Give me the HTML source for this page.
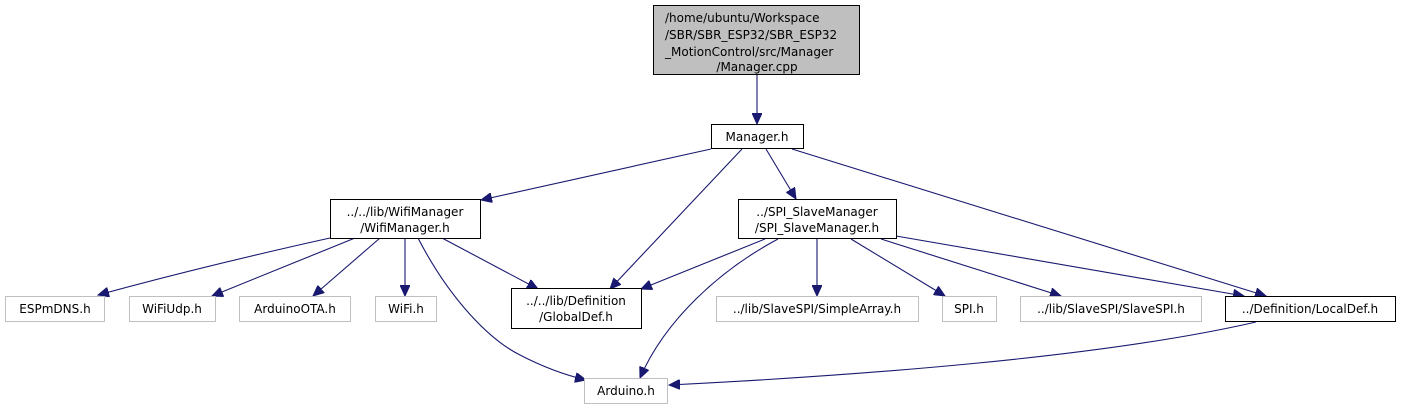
<!DOCTYPE html>
<html><head><meta charset="utf-8"><style>
html,body{margin:0;padding:0;background:#fff;}
svg{display:block;}
text{font-family:"DejaVu Sans","Liberation Sans",sans-serif;font-size:12px;fill:#000;}
</style></head><body>
<svg width="1407" height="409" viewBox="0 0 1407 409" xmlns="http://www.w3.org/2000/svg">
<defs>
<marker id="a" markerUnits="userSpaceOnUse" markerWidth="12" markerHeight="10" refX="11" refY="5" orient="auto">
<path d="M0,0 L11,5 L0,10 Z" fill="#191970" stroke="#191970"/>
</marker>
</defs>
<g fill="none" stroke="#191970" stroke-width="1.1" marker-end="url(#a)">
<path d="M757,75 L757,124"/>
<path d="M711,149 L481,200"/>
<path d="M742,149 L610,289"/>
<path d="M766,149 L796,199"/>
<path d="M792,149 L1266,296"/>
<path d="M330,238 C240,258 160,278 98,295"/>
<path d="M355,238 L212,296"/>
<path d="M380,238 L313,296"/>
<path d="M405,238 L405,296"/>
<path d="M418,238 C450,300 490,340 520,355 C545,368 565,375 586,380"/>
<path d="M442,238 L538,289"/>
<path d="M765,239 L641,289"/>
<path d="M778,239 C720,270 665,320 640,378"/>
<path d="M817,239 L817,296"/>
<path d="M851,239 L945,296"/>
<path d="M881,239 L1061,296"/>
<path d="M896,236 L1244,296"/>
<path d="M1256,322 C1100,358 850,376 669,385"/>
</g>
<g stroke-width="1">
<rect x="653.5" y="5.5" width="206" height="69" fill="#bfbfbf" stroke="#000"/>
<rect x="711.5" y="124.5" width="92" height="24" fill="#fff" stroke="#000"/>
<rect x="330.5" y="199.5" width="150" height="39" fill="#fff" stroke="#000"/>
<rect x="738.5" y="199.5" width="158" height="39" fill="#fff" stroke="#000"/>
<rect x="511.5" y="288.5" width="130" height="40" fill="#fff" stroke="#000"/>
<rect x="1225.5" y="296.5" width="170" height="25" fill="#fff" stroke="#000"/>
<g fill="#fff" stroke="#bfbfbf">
<rect x="5.5" y="296.5" width="99" height="25"/>
<rect x="129.5" y="296.5" width="86" height="25"/>
<rect x="239.5" y="296.5" width="111" height="25"/>
<rect x="375.5" y="296.5" width="61" height="25"/>
<rect x="716.5" y="296.5" width="202" height="25"/>
<rect x="942.5" y="296.5" width="54" height="25"/>
<rect x="1020.5" y="296.5" width="181" height="25"/>
<rect x="584.5" y="378.5" width="83" height="25"/>
</g>
</g>
<text x="665" y="22">/home/ubuntu/Workspace</text>
<text x="665" y="39">/SBR/SBR_ESP32/SBR_ESP32</text>
<text x="665" y="56">_MotionControl/src/Manager</text>
<text x="757" y="71" text-anchor="middle">/Manager.cpp</text>
<text x="757" y="141" text-anchor="middle">Manager.h</text>
<text x="405" y="216" text-anchor="middle">../../lib/WifiManager</text>
<text x="405" y="232" text-anchor="middle">/WifiManager.h</text>
<text x="817" y="216" text-anchor="middle">../SPI_SlaveManager</text>
<text x="817" y="232" text-anchor="middle">/SPI_SlaveManager.h</text>
<text x="576" y="305" text-anchor="middle">../../lib/Definition</text>
<text x="576" y="321" text-anchor="middle">/GlobalDef.h</text>
<text x="1310" y="313" text-anchor="middle">../Definition/LocalDef.h</text>
<g>
<text x="55" y="313" text-anchor="middle">ESPmDNS.h</text>
<text x="172" y="313" text-anchor="middle">WiFiUdp.h</text>
<text x="295" y="313" text-anchor="middle">ArduinoOTA.h</text>
<text x="406" y="313" text-anchor="middle">WiFi.h</text>
<text x="817" y="313" text-anchor="middle">../lib/SlaveSPI/SimpleArray.h</text>
<text x="969" y="313" text-anchor="middle">SPI.h</text>
<text x="1111" y="313" text-anchor="middle">../lib/SlaveSPI/SlaveSPI.h</text>
<text x="626" y="395" text-anchor="middle">Arduino.h</text>
</g>
</svg>
</body></html>
